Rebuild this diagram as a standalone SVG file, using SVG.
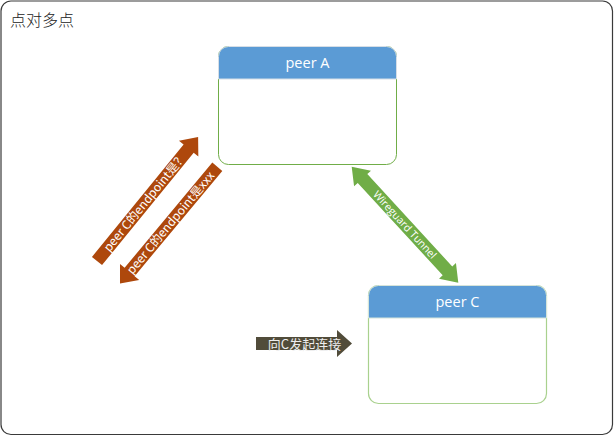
<svg xmlns="http://www.w3.org/2000/svg" width="614" height="436" viewBox="0 0 614 436">
<style>
.cjk{font-family:"Noto Sans CJK SC","Noto Sans",sans-serif}
.lat{font-family:"Open Sans","Noto Sans","Noto Sans CJK SC",sans-serif}
.hdr{fill:#5B9BD5}
.lbl{fill:#FFFFFF;font-size:14.5px;text-anchor:middle}
.atxt{fill:#FFFFFF;text-anchor:middle}
.red{fill:#AE480C}
</style>
<rect x="1" y="1" width="611.5" height="433.5" rx="10" fill="#FFFFFF" stroke="#3A3A3A" stroke-width="1.2"/>
<text x="10" y="26" class="cjk" font-size="16" font-weight="300" fill="#222222">点对多点</text>
<g id="peerA">
<rect x="218.5" y="46.5" width="178" height="118" rx="10" fill="#FFFFFF" stroke="#70AD47" stroke-width="1"/>
<path class="hdr" d="M218.5,79 V56.5 a10,10 0 0 1 10,-10 H386.5 a10,10 0 0 1 10,10 V79 Z" stroke="#D6DEE6" stroke-width="1"/>
<text x="307.5" y="68" class="lat lbl">peer A</text>
</g>
<g id="peerC">
<rect x="368.5" y="285.5" width="178" height="118" rx="10" fill="#FFFFFF" stroke="#A9D18E" stroke-width="1.2"/>
<path class="hdr" d="M368.5,318 V295.5 a10,10 0 0 1 10,-10 H536.5 a10,10 0 0 1 10,10 V318 Z" stroke="#D6E4DA" stroke-width="1"/>
<text x="457.5" y="307" class="lat lbl">peer C</text>
</g>
<g id="connectors">
<g id="ask" transform="translate(97,261) rotate(-50.8)">
<polygon class="red" points="0,-6.5 145,-6.5 145,-12.5 160,0 145,12.5 145,6.5 0,6.5"/>
<text x="76" y="4.2" class="cjk atxt" font-size="12">peer C的endpoint是？</text>
</g>
<g id="reply" transform="translate(120,283.5) rotate(-50.2)">
<polygon class="red" points="0,0 15,-12.5 15,-6.5 152,-6.5 152,6.5 15,6.5 15,12.5"/>
<text x="79" y="4.2" class="cjk atxt" font-size="12">peer C的endpoint是xxx</text>
</g>
<g id="tunnel" transform="translate(351.7,166.7) rotate(47.4)">
<polygon fill="#70AD47" points="0,0 16,-11.5 16,-6.5 141.5,-6.5 141.5,-11.5 157.5,0 141.5,11.5 141.5,6.5 16,6.5 16,11.5"/>
<text x="78.7" y="3.8" class="lat atxt" font-size="10.5">Wireguard Tunnel</text>
</g>
<g id="connect">
<polygon fill="#514C3A" points="256,337 337,337 337,330 352,343.5 337,357 337,350 256,350"/>
<text x="304.5" y="348.5" class="cjk" font-size="13" fill="#EEEEEE" text-anchor="middle">向C发起连接</text>
</g>
</g>
</svg>
